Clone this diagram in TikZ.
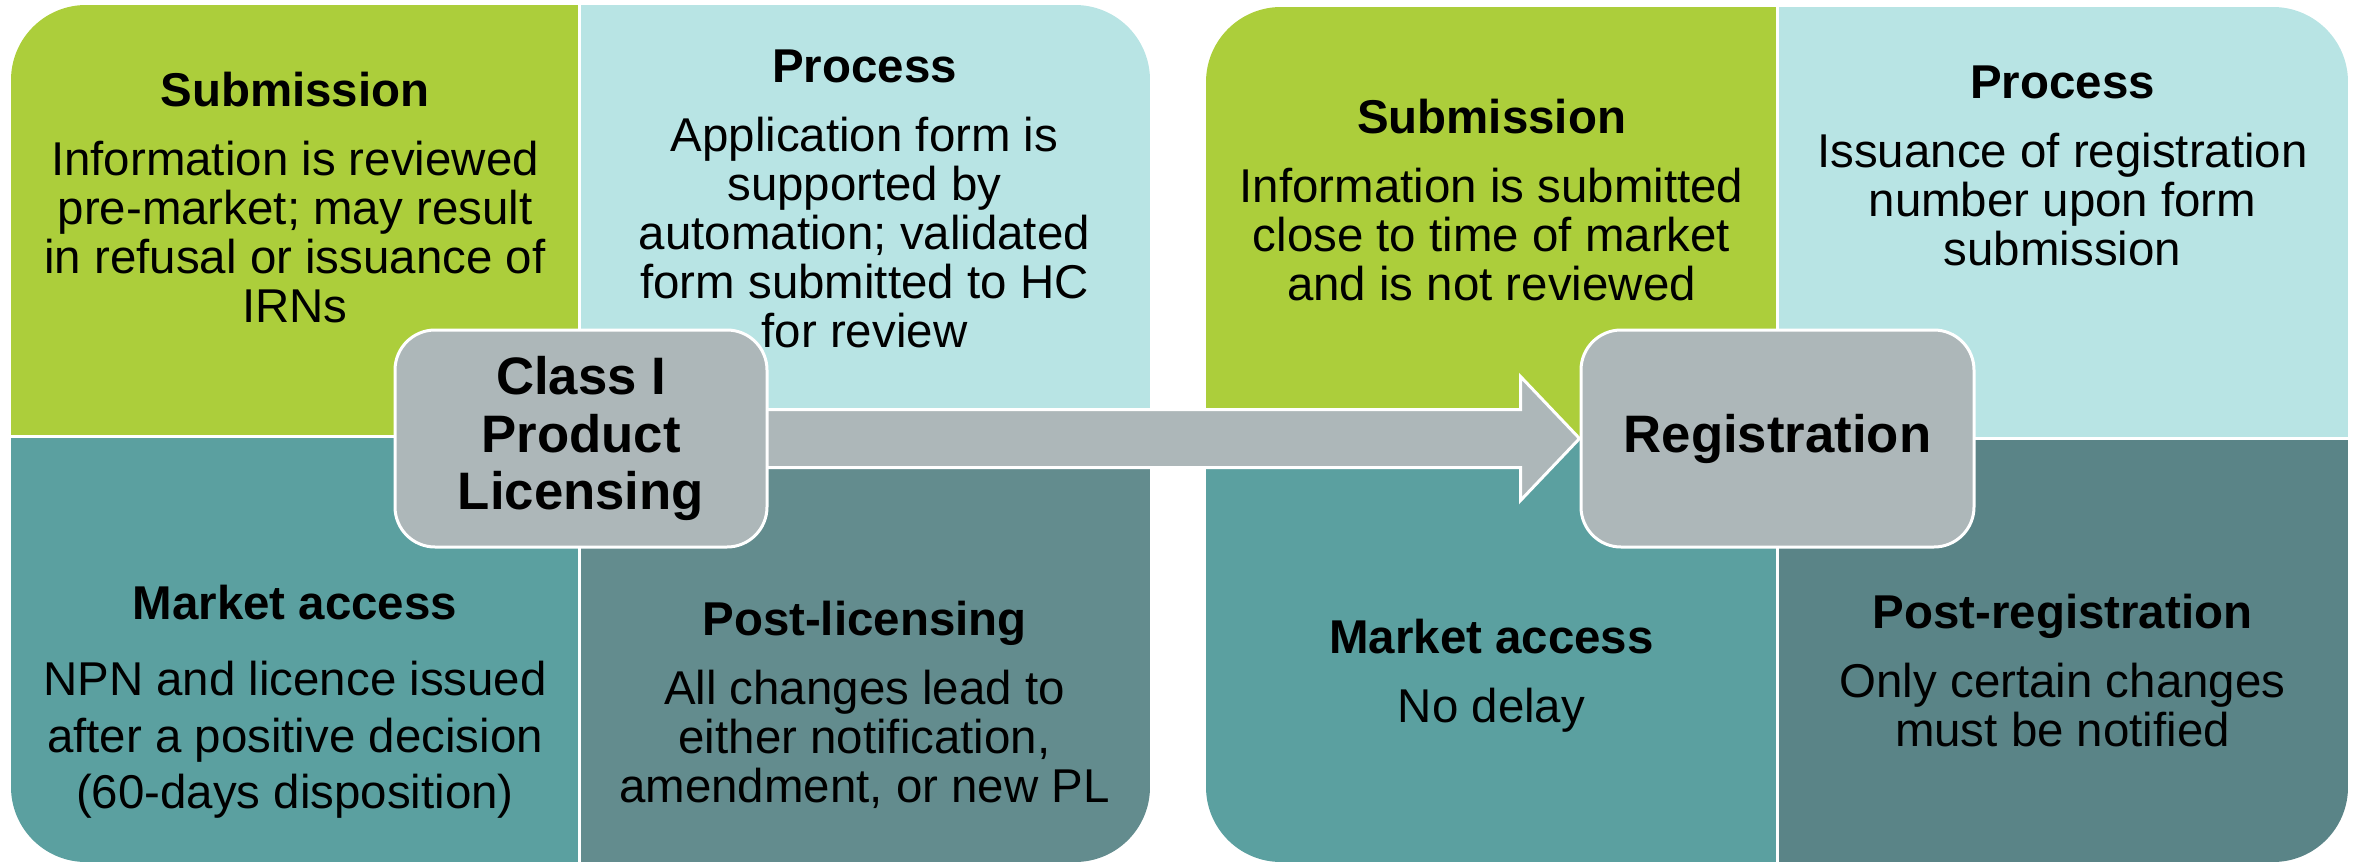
\documentclass[tikz,border=0pt]{standalone}
\usepackage{fontspec}
\setmainfont{Liberation Sans}
\usetikzlibrary{positioning,calc}
\definecolor{subgreen}{RGB}{172,206,59}
\definecolor{procblue}{RGB}{184,228,228}
\definecolor{marketteal}{RGB}{91,160,160}
\definecolor{postslate}{RGB}{99,140,142}
\definecolor{regslate}{RGB}{90,132,135}
\definecolor{hubgray}{RGB}{173,183,185}
\pgfdeclarelayer{quads}
\pgfdeclarelayer{arrowlayer}
\pgfsetlayers{quads,arrowlayer,main}
\tikzset{
  head/.style={font=\fontsize{13.5}{13.94}\selectfont\bfseries, inner sep=0, anchor=base},
  body/.style={font=\fontsize{13.5}{13.94}\selectfont, align=center, inner sep=0, node distance=3.45mm},
  loosebody/.style={body, font=\fontsize{13.5}{16.1}\selectfont, node distance=4.15mm},
  hub/.style={rectangle, rounded corners=4mm, fill=hubgray, draw=white, line width=0.3mm,
    minimum width=37.2mm, minimum height=21.7mm, inner sep=0, align=center,
    font=\fontsize{15}{16.3}\selectfont\bfseries},
  blockarrow/.style={fill=hubgray, draw=white, line width=0.3mm},
  divider/.style={draw=white, line width=0.3mm}
}

\begin{document}
\begin{tikzpicture}[x=0.1mm, y=-0.1mm]
  \useasboundingbox (0,0) rectangle (2356,865);

  % product licensing side
  \node[hub] (classI) at (581,438.5) {Class I\\Product\\Licensing};
  \node[head] (subL) at (295,106) {Submission};
  \node[body, below=of subL.base] (subLtxt) {Information is reviewed\\pre-market; may result\\in refusal or issuance of\\IRNs};
  \node[head] (procL) at (864.5,82) {Process};
  \node[body, below=of procL.base] (procLtxt) {Application form is\\supported by\\automation; validated\\form submitted to HC\\for review};
  \node[head] (mktL) at (295,619) {Market access};
  \node[loosebody, below=of mktL.base] (mktLtxt) {NPN and licence issued\\after a positive decision\\(60-days disposition)};
  \node[head] (postL) at (864.5,635) {Post-licensing};
  \node[body, below=of postL.base] (postLtxt) {All changes lead to\\either notification,\\amendment, or new PL};

  % registration side
  \node[hub, minimum width=39.3mm] (reg) at (1777.5,438.5) {Registration};
  \node[head] (subR) at (1491.5,133) {Submission};
  \node[body, below=of subR.base] (subRtxt) {Information is submitted\\close to time of market\\and is not reviewed};
  \node[head] (procR) at (2062.5,98) {Process};
  \node[body, below=of procR.base] (procRtxt) {Issuance of registration\\number upon form\\submission};
  \node[head] (mktR) at (1491.5,653) {Market access};
  \node[body, below=of mktR.base] (mktRtxt) {No delay};
  \node[head] (postR) at (2062.5,628) {Post-registration};
  \node[body, below=of postR.base] (postRtxt) {Only certain changes\\must be notified};

  \begin{pgfonlayer}{arrowlayer}
    \draw[blockarrow] ($(classI.center)+(0,-29)$) -- ($(reg.west)+(-59,-29)$)
      -- ($(reg.west)+(-59,-62)$) -- (reg.west) -- ($(reg.west)+(-59,62)$)
      -- ($(reg.west)+(-59,29)$) -- ($(classI.center)+(0,29)$) -- cycle;
  \end{pgfonlayer}

  \begin{pgfonlayer}{quads}
    \begin{scope}
      \clip[rounded corners=7.5mm] (11,5) rectangle (1150,862);
      \fill[subgreen] (11,5) rectangle (579,436);
      \fill[procblue] (579,5) rectangle (1150,436);
      \fill[marketteal] (11,436) rectangle (579,862);
      \fill[postslate] (579,436) rectangle (1150,862);
      \draw[divider] (579,5) -- (579,862) (11,436) -- (1150,436);
    \end{scope}
    \begin{scope}
      \clip[rounded corners=7.5mm] (1206,7) rectangle (2348,862);
      \fill[subgreen] (1206,7) rectangle (1777,438);
      \fill[procblue] (1777,7) rectangle (2348,438);
      \fill[marketteal] (1206,438) rectangle (1777,862);
      \fill[regslate] (1777,438) rectangle (2348,862);
      \draw[divider] (1777,7) -- (1777,862) (1206,438) -- (2348,438);
    \end{scope}
  \end{pgfonlayer}
\end{tikzpicture}
\end{document}
